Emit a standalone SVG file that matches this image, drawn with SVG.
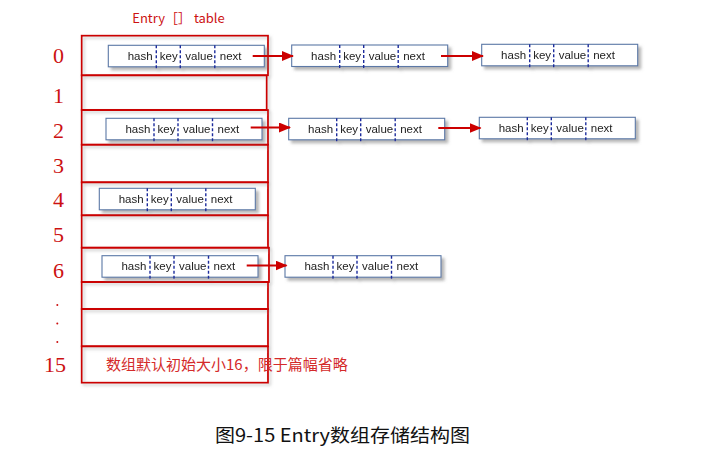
<svg xmlns="http://www.w3.org/2000/svg" width="708" height="465" viewBox="0 0 708 465">
<style>
.idx{font-family:"Liberation Serif","DejaVu Serif",serif;font-size:22px;fill:#cc1111;text-anchor:middle}
.row{fill:none;stroke:#cc0000;stroke-width:1.8}
.box{fill:#ffffff;stroke:#5b78a6;stroke-width:1.1}
.div{stroke:#1b2c9c;stroke-width:1.4;stroke-dasharray:3,2}
.t{font-family:"Liberation Sans",Arial,sans-serif;font-size:11.5px;fill:#222}
.arr{stroke:#cc0000;stroke-width:2.2;fill:none}
</style>
<defs>
<filter id="sh" x="-20%" y="-40%" width="140%" height="190%">
<feDropShadow dx="3" dy="3" stdDeviation="1.6" flood-color="#7a7a7a" flood-opacity="0.55"/>
</filter>
<filter id="rsh" x="-10%" y="-30%" width="120%" height="160%">
<feDropShadow dx="2" dy="2" stdDeviation="1.5" flood-color="#999" flood-opacity="0.5"/>
</filter>
<marker id="ah" markerWidth="12" markerHeight="10" refX="11" refY="5" orient="auto" markerUnits="userSpaceOnUse">
<path d="M0,0 L12,5 L0,10 Z" fill="#cc0000"/>
</marker>
<g id="entry">
<rect class="box" x="0" y="0" width="156" height="21.5"/>
<line class="div" x1="48" y1="0" x2="48" y2="25"/>
<line class="div" x1="72" y1="0" x2="72" y2="25"/>
<line class="div" x1="106.5" y1="0" x2="106.5" y2="25"/>
<text class="t" x="19.4" y="14.8">hash</text>
<text class="t" x="51.5" y="14.8">key</text>
<text class="t" x="77" y="14.8">value</text>
<text class="t" x="111.5" y="14.8">next</text>
</g>
</defs>
<rect width="708" height="465" fill="#ffffff"/>

<text x="178.5" y="23" font-family="'Noto Sans CJK SC','Liberation Sans',sans-serif" font-size="13" fill="#cc1111" text-anchor="middle">Entry［］ table</text>

<g id="table" filter="url(#rsh)">
<rect class="row" x="81.7" y="35.7" width="186.3" height="39.6"/>
<rect class="row" x="81.7" y="75.3" width="185" height="34.7"/>
<rect class="row" x="81.7" y="110" width="186.3" height="34.7"/>
<rect class="row" x="81.7" y="144.7" width="186.3" height="37.6"/>
<rect class="row" x="81.7" y="182.3" width="186.3" height="33"/>
<rect class="row" x="81.7" y="215.3" width="186.3" height="32.4"/>
<rect class="row" x="81.7" y="247.7" width="187.3" height="34.3"/>
<rect class="row" x="81.7" y="282" width="186.3" height="27"/>
<rect class="row" x="81.7" y="309" width="186.3" height="37.3"/>
<rect class="row" x="81.7" y="346.3" width="186.3" height="36.4"/>
</g>

<g id="indices">
<text class="idx" x="58.5" y="63">0</text>
<text class="idx" x="58.5" y="103">1</text>
<text class="idx" x="58.5" y="138">2</text>
<text class="idx" x="58.5" y="173">3</text>
<text class="idx" x="58.5" y="207">4</text>
<text class="idx" x="58.5" y="241.7">5</text>
<text class="idx" x="58.5" y="278">6</text>
<circle cx="57.3" cy="305" r="1" fill="#cc1111"/>
<circle cx="57.3" cy="323.5" r="1" fill="#cc1111"/>
<circle cx="57.3" cy="342" r="1" fill="#cc1111"/>
<text class="idx" x="55" y="371.7">15</text>
</g>

<g id="e0a" filter="url(#sh)"><use href="#entry" x="108.3" y="45.3"/></g>
<g id="e0b" filter="url(#sh)"><use href="#entry" x="291.7" y="45"/></g>
<g id="e0c" filter="url(#sh)"><use href="#entry" x="481.7" y="44.3"/></g>
<g id="e2a" filter="url(#sh)"><use href="#entry" x="106" y="118.3"/></g>
<g id="e2b" filter="url(#sh)"><use href="#entry" x="288.7" y="118.3"/></g>
<g id="e2c" filter="url(#sh)"><use href="#entry" x="479.3" y="117.3"/></g>
<g id="e4a" filter="url(#sh)"><use href="#entry" x="99.3" y="188.3"/></g>
<g id="e6a" filter="url(#sh)"><use href="#entry" x="102" y="255.7"/></g>
<g id="e6b" filter="url(#sh)"><use href="#entry" x="285" y="255.7"/></g>

<g id="connectors">
<line class="arr" x1="252.7" y1="56" x2="293" y2="56" marker-end="url(#ah)"/>
<line class="arr" x1="441" y1="56" x2="483" y2="56" marker-end="url(#ah)"/>
<line class="arr" x1="250.7" y1="127.5" x2="290" y2="127.5" marker-end="url(#ah)"/>
<line class="arr" x1="438.3" y1="128" x2="480.5" y2="128" marker-end="url(#ah)"/>
<line class="arr" x1="246.7" y1="265.5" x2="286.5" y2="265.5" marker-end="url(#ah)"/>
</g>

<text x="106" y="370" font-family="'Noto Sans CJK SC',sans-serif" font-size="15" fill="#d42a2a">数组默认初始大小16，限于篇幅省略</text>

<text x="215" y="442" font-family="'Noto Sans CJK SC','Noto Sans',sans-serif" font-size="18" fill="#111" textLength="255" lengthAdjust="spacingAndGlyphs">图9-15 Entry数组存储结构图</text>
</svg>
